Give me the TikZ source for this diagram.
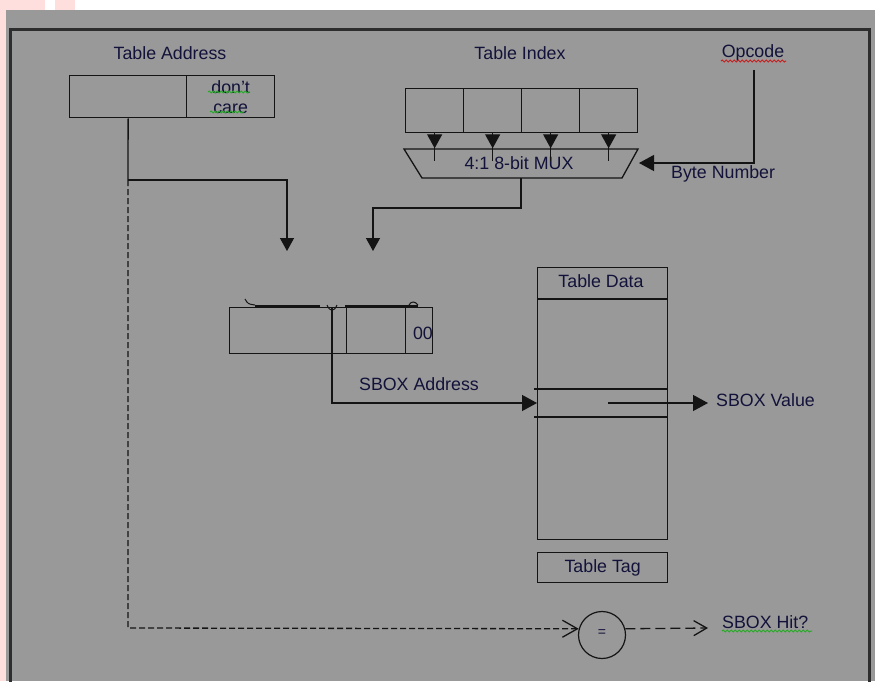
\documentclass[tikz,border=0pt]{standalone}
\usepackage{fontspec}
\setmainfont{Liberation Sans}
\usetikzlibrary{arrows.meta,decorations.pathmorphing,calc}
\definecolor{bg}{RGB}{153,153,153}
\definecolor{txt}{RGB}{18,18,58}
\definecolor{ln}{RGB}{20,20,20}
\definecolor{brd}{RGB}{45,45,45}
\definecolor{pinkc}{RGB}{255,222,222}
\definecolor{sqgreen}{RGB}{40,170,40}
\definecolor{sqred}{RGB}{200,30,30}
\begin{document}
\begin{tikzpicture}[x=1pt,y=-1pt,
  every node/.style={font=\fontsize{17.8}{20}\selectfont, text=txt},
  box/.style={draw=ln, line width=1.3pt, anchor=north west, inner sep=0pt},
  lbl/.style={inner sep=0pt},
  wire/.style={draw=ln, line width=1.3pt},
  fat/.style={-{Triangle[length=13pt,width=14pt]}},
  fatc/.style={-{Triangle[length=14pt,width=15pt]}},
  fatb/.style={-{Triangle[length=15pt,width=16pt]}},
  dwire/.style={draw=ln, line width=1.3pt, dash pattern=on 6pt off 3pt},
  barb/.style={-{Straight Barb[length=15pt,width=17pt,line width=1.3pt]}},
  squig/.style={decorate, decoration={snake, amplitude=1pt, segment length=4pt}, line width=1pt}
]
% background
\fill[white] (0,0) rectangle (875,681);
\useasboundingbox (0,0) rectangle (875,681);
\fill[pinkc] (0,0) rectangle (45,10);
\fill[pinkc] (55,0) rectangle (75,10);
\fill[pinkc] (0,0) rectangle (6,681);
\fill[bg] (6,10) rectangle (875,681);
\draw[brd, line width=3pt] (10,690) -- (10,29) -- (869,29) -- (869,690);

% Table Address
\node[lbl] (talbl) at (170,53) {Table Address};
\node[box, minimum width=117pt, minimum height=42pt] (ta1) at (69,75) {};
\node[box, minimum width=88pt, minimum height=42pt, align=center] (ta2) at (186,75) {don't\\care};
\draw[sqgreen, squig] (208,92) -- (250,92);
\draw[sqgreen, squig] (210,112) -- (244,112);

% Table Index
\node[lbl] (tilbl) at (520,53) {Table Index};
\foreach \i/\x in {1/405,2/463,3/521,4/579}
  \node[box, minimum width=58pt, minimum height=44pt] (c\i) at (\x,88) {};

% MUX
\draw[wire] (404,149) -- (638,149) -- (622,178) -- (422,178) -- cycle;
\node[lbl] (mux) at (519,163) {4:1 8-bit MUX};
\coordinate (muxR) at (639,163);
\coordinate (muxB) at (521,178);
\foreach \i in {1,...,4} {
  \draw[wire] (c\i.south) -- ++(0,28);
  \draw[wire, fatc] (c\i.south) -- ++(0,15);
}

% Opcode
\node[lbl] (op) at (753,53) {Opcode};
\draw[sqred, squig] (721,61) -- (786,61);
\coordinate (optop) at (754,70);
\draw[wire, fatb] (optop) |- (muxR);
\node[lbl, anchor=west] (bn) at (671,174) {Byte Number};

% arrows into middle register
\coordinate (j1) at (128,180);
\coordinate (a1) at (287,251);
\coordinate (j2) at (521,208);
\coordinate (a2) at (373,251);
\draw[wire] (ta1.south) -- (j1);
\draw[wire, fat] (j1) -| (a1);
\draw[wire, fat] (muxB) -- (j2) -| (a2);

% middle register
\node[box, minimum width=117pt, minimum height=46pt] (m1) at (229,307) {};
\node[box, minimum width=59pt, minimum height=46pt] (m2) at (346,307) {};
\node[box, minimum width=27pt, minimum height=46pt] (m3) at (405,307) {};
\node[lbl, anchor=east] (zz) at (433,333) {00};
\draw[ln, line width=2.2pt] (255,306) -- (320,306) (345,306) -- (418,306);
\draw[ln, line width=1pt] (245,299) .. controls (248,304) .. (255,305);
\draw[ln, line width=1pt] (327,305) .. controls (330,312) and (334,312) .. (337,305);
\draw[ln, line width=1pt] (409,305) .. controls (411,301) and (415,301) .. (418,305);

% Table Data
\node[box, minimum width=130pt, minimum height=272pt] (td) at (537,267) {};
\node[lbl] (tdl) at (601,281) {Table Data};
\draw[wire] (td.west |- 0,299) -- (td.east |- 0,299);
\draw[wire] (534,389) -- (td.east |- 0,389);
\draw[wire] (534,417) -- (td.east |- 0,417);
\coordinate (tdin) at (td.west |- 0,403);

% SBOX address
\coordinate (sa) at (332,307);
\draw[wire, fatb] (sa) |- (tdin);
\node[lbl] (sal) at (419,384) {SBOX Address};

% SBOX value
\coordinate (sv) at (608,403);
\coordinate (svend) at (708,403);
\draw[wire, fatb] (sv) -- (svend);
\node[lbl, anchor=west] (svl) at (716,400) {SBOX Value};

% Table Tag
\node[box, minimum width=130pt, minimum height=30pt] (tt) at (537,552) {Table Tag};

% comparator
\node[draw=ln, circle, line width=1.2pt, minimum size=47pt, inner sep=0pt,
  font=\fontsize{14}{14}\selectfont] (eq) at (602,635) {\raisebox{4pt}{=}};
\coordinate (j3) at (128,628);
\draw[dwire, barb] (j1) -- (j3) -- (eq.165);
\coordinate (hitend) at (708,628);
\draw[draw=ln, line width=1.3pt, dash pattern=on 10pt off 5pt,
  -{Straight Barb[length=13pt,width=15pt,line width=1.3pt]}] (eq.15) -- (hitend);
\node[lbl, anchor=west] (hit) at (722,622) {SBOX Hit?};
\draw[sqgreen, squig] (722,631) -- (812,631);
\end{tikzpicture}
\end{document}
